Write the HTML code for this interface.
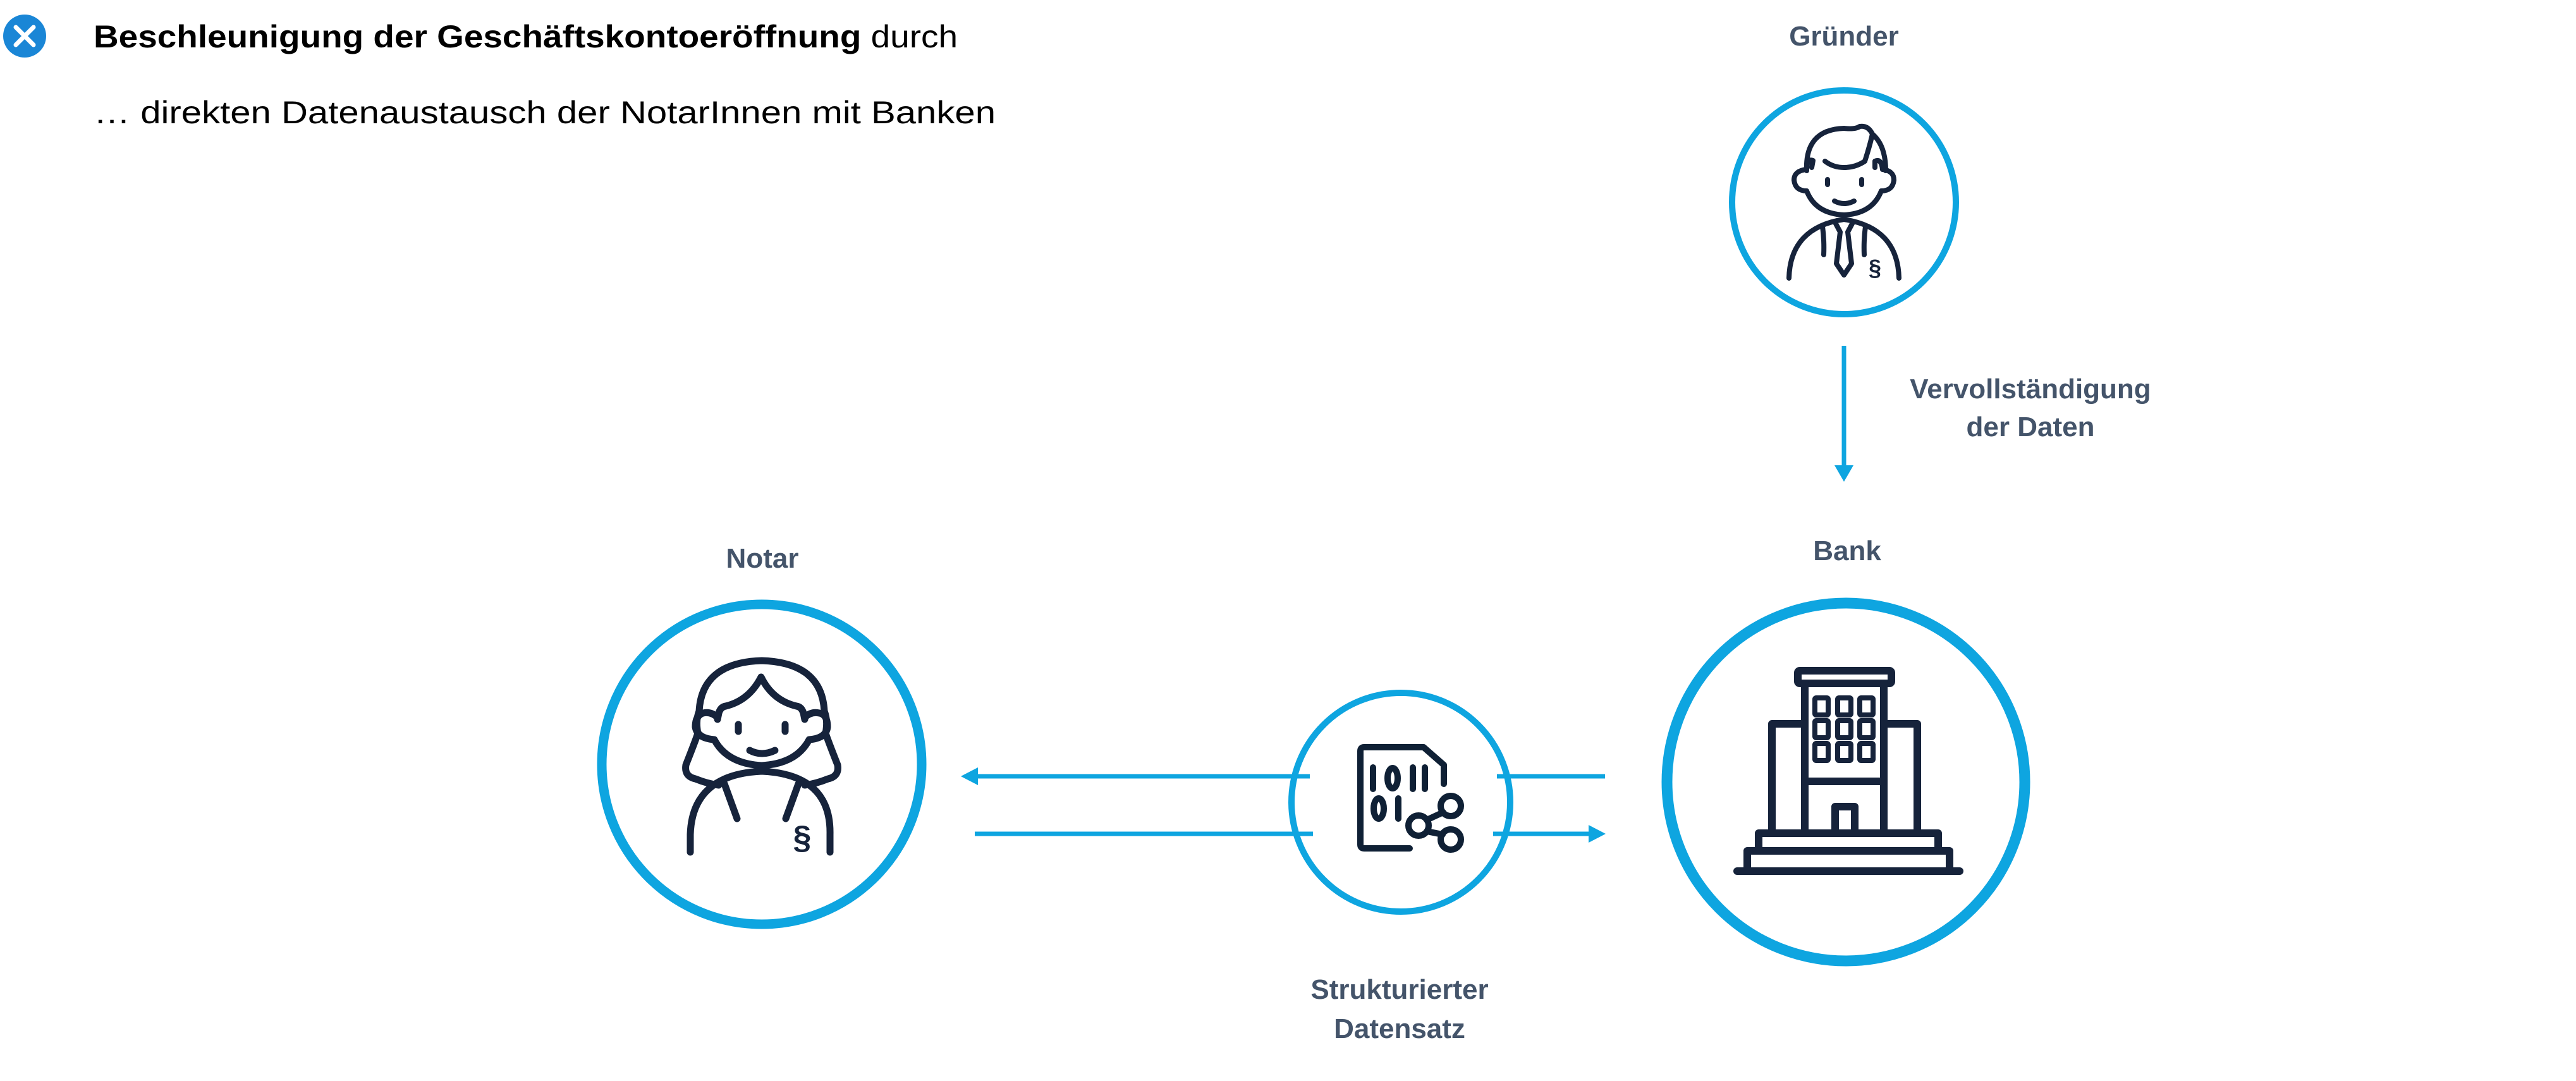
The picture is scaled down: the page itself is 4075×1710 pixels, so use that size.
<!DOCTYPE html>
<html><head><meta charset="utf-8"><style>
html,body{margin:0;padding:0;background:#fff;}
svg{display:block;}
.lbl{font-family:"Liberation Sans",sans-serif;font-weight:bold;fill:#44546a;}
</style></head><body>
<svg width="4075" height="1710" viewBox="0 0 4075 1710" xmlns="http://www.w3.org/2000/svg">
<!-- header -->
<circle cx="39" cy="57" r="34" fill="#1a86d6"/>
<path d="M25 43 L53 71 M53 43 L25 71" stroke="#fff" stroke-width="7" stroke-linecap="round"/>
<text x="148" y="75" font-family="Liberation Sans, sans-serif" font-size="50" textLength="1367" lengthAdjust="spacingAndGlyphs" fill="#000"><tspan font-weight="bold">Beschleunigung der Geschäftskontoeröffnung</tspan> durch</text>
<text x="148" y="195" font-family="Liberation Sans, sans-serif" font-size="50" textLength="1427" lengthAdjust="spacingAndGlyphs" fill="#000">… direkten Datenaustausch der NotarInnen mit Banken</text>

<!-- labels -->
<text class="lbl" x="2917" y="72" font-size="44" text-anchor="middle">Gründer</text>
<text class="lbl" x="3212" y="630" font-size="44" text-anchor="middle">Vervollständigung</text>
<text class="lbl" x="3212" y="690" font-size="44" text-anchor="middle">der Daten</text>
<text class="lbl" x="2922" y="886" font-size="44" text-anchor="middle">Bank</text>
<text class="lbl" x="1206" y="898" font-size="44" text-anchor="middle">Notar</text>
<text class="lbl" x="2214" y="1580" font-size="44" text-anchor="middle">Strukturierter</text>
<text class="lbl" x="2214" y="1642" font-size="44" text-anchor="middle">Datensatz</text>

<!-- circles -->
<g fill="none" stroke="#0ea5e0">
<circle cx="2917" cy="320" r="177" stroke-width="10"/>
<circle cx="1205" cy="1209" r="253" stroke-width="15"/>
<circle cx="2216" cy="1269" r="173" stroke-width="10"/>
<circle cx="2920" cy="1237" r="283" stroke-width="17"/>
</g>

<!-- arrows -->
<g stroke="#0ea5e0" stroke-width="7" fill="none">
<line x1="2917" y1="547" x2="2917" y2="740"/>
<line x1="1545" y1="1228" x2="2072" y2="1228"/>
<line x1="2368" y1="1228" x2="2539" y2="1228"/>
<line x1="1542" y1="1319" x2="2077" y2="1319"/>
<line x1="2362" y1="1319" x2="2515" y2="1319"/>
</g>
<g fill="#0ea5e0">
<polygon points="2902,736 2932,736 2917,762"/>
<polygon points="1520,1228 1547,1214 1547,1242"/>
<polygon points="2540,1319 2513,1305 2513,1333"/>
</g>

<!-- data icon -->
<g stroke="#0f2035" stroke-width="10" fill="none" stroke-linecap="round" stroke-linejoin="round">
<path d="M2230 1342 L2158 1342 Q2152 1342 2152 1336 L2152 1188 Q2152 1182 2158 1182 L2252 1182 L2284 1210 L2284 1240"/>
<line x1="2172" y1="1214" x2="2172" y2="1248"/>
<ellipse cx="2203" cy="1231" rx="8" ry="16"/>
<line x1="2235" y1="1214" x2="2235" y2="1248"/>
<line x1="2254" y1="1214" x2="2254" y2="1248"/>
<ellipse cx="2181" cy="1279" rx="8" ry="16"/>
<line x1="2212" y1="1263" x2="2212" y2="1295"/>
<circle cx="2295" cy="1275" r="16"/>
<circle cx="2244" cy="1306" r="16"/>
<circle cx="2295" cy="1328" r="16"/>
<line x1="2257" y1="1297" x2="2283" y2="1285"/>
<line x1="2257" y1="1315" x2="2282" y2="1320"/>
</g>

<!-- Gründer icon -->
<g stroke="#16233b" stroke-width="8" fill="none" stroke-linecap="round" stroke-linejoin="round">
<path d="M2858 270 Q2855 205 2917 203 Q2935 205 2942 200 Q2955 198 2962 212 Q2983 230 2983 270"/>
<path d="M2887 255 Q2900 265 2917 265 Q2935 265 2950 255 Q2958 230 2962 212"/>
<path d="M2858 268 Q2858 250 2868 254 L2866 265"/>
<path d="M2966 265 L2966 255 Q2976 250 2978 268"/>
<path d="M2858 268 Q2838 270 2838 285 Q2840 302 2858 302 Q2872 338 2917 340 Q2962 338 2976 302 Q2994 302 2996 285 Q2996 270 2978 268"/>
<line x1="2891" y1="284" x2="2891" y2="292"/>
<line x1="2945" y1="284" x2="2945" y2="292"/>
<path d="M2902 318 Q2917 326 2933 318"/>
<path d="M2830 440 Q2832 360 2917 347 Q3002 360 3004 440"/>
<path d="M2902 350 L2911 367 L2905 417 L2917 435 L2929 417 L2923 367 L2932 350"/>
<path d="M2883 358 Q2886 380 2885 403"/>
<path d="M2951 358 Q2948 380 2949 403"/>
</g>
<text x="2966" y="436" font-family="Liberation Sans, sans-serif" font-size="36" font-weight="bold" fill="#16233b" text-anchor="middle">§</text>

<!-- Notar icon -->
<g stroke="#16233b" stroke-width="11" fill="none" stroke-linecap="round" stroke-linejoin="round">
<path d="M1106 1125 Q1110 1048 1205 1045 Q1300 1048 1304 1125"/>
<path d="M1135 1138 L1137 1128 Q1140 1118 1148 1117 Q1185 1108 1204 1071 Q1222 1108 1260 1117 Q1268 1118 1271 1128 L1273 1138"/>
<path d="M1135 1135 Q1125 1125 1112 1128 Q1100 1132 1100 1150 Q1103 1168 1130 1170 Q1150 1208 1205 1211 Q1260 1208 1280 1170 Q1307 1168 1309 1150 Q1309 1130 1296 1128 Q1283 1125 1273 1135"/>
<path d="M1106 1125 Q1100 1140 1104 1160 Q1100 1172 1085 1210 Q1082 1228 1100 1232 Q1120 1240 1137 1242"/>
<path d="M1304 1125 Q1310 1140 1306 1160 Q1310 1172 1325 1210 Q1328 1228 1310 1232 Q1290 1240 1273 1242"/>
<line x1="1168" y1="1146" x2="1168" y2="1157"/>
<line x1="1242" y1="1146" x2="1242" y2="1157"/>
<path d="M1186 1187 Q1205 1197 1226 1187"/>
<path d="M1092 1348 L1092 1320 Q1095 1225 1205 1220 Q1315 1225 1313 1320 L1313 1348"/>
<path d="M1146 1240 L1166 1295"/>
<path d="M1263 1240 L1243 1295"/>
</g>
<text x="1269" y="1342" font-family="Liberation Sans, sans-serif" font-size="52" font-weight="bold" fill="#16233b" text-anchor="middle">§</text>

<!-- Bank icon -->
<g stroke="#16233b" stroke-width="12" fill="none" stroke-linecap="round" stroke-linejoin="round">
<rect x="2844" y="1061" width="148" height="20" rx="3"/>
<path d="M2855 1081 L2855 1318 M2980 1081 L2980 1318"/>
<line x1="2855" y1="1236" x2="2980" y2="1236"/>
<path d="M2855 1145 L2803 1145 L2803 1318 M2980 1145 L3033 1145 L3033 1318"/>
<path d="M2903 1318 L2903 1276 L2934 1276 L2934 1318"/>
<rect x="2782" y="1318" width="284" height="28"/>
<rect x="2764" y="1346" width="320" height="32"/>
<line x1="2748" y1="1378" x2="3100" y2="1378"/>
</g>
<g stroke="#16233b" stroke-width="8" fill="none" stroke-linejoin="round">
<rect x="2871" y="1104" width="21" height="27" rx="2"/>
<rect x="2907" y="1104" width="21" height="27" rx="2"/>
<rect x="2942" y="1104" width="21" height="27" rx="2"/>
<rect x="2871" y="1140" width="21" height="27" rx="2"/>
<rect x="2907" y="1140" width="21" height="27" rx="2"/>
<rect x="2942" y="1140" width="21" height="27" rx="2"/>
<rect x="2871" y="1176" width="21" height="27" rx="2"/>
<rect x="2907" y="1176" width="21" height="27" rx="2"/>
<rect x="2942" y="1176" width="21" height="27" rx="2"/>
</g>
</svg>
</body></html>
